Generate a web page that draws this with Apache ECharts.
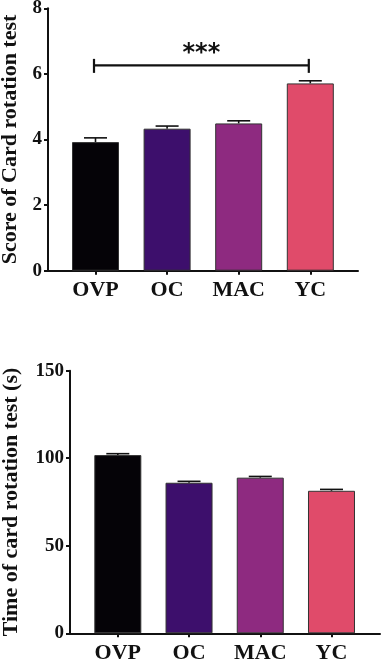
<!DOCTYPE html>
<html>
<head>
<meta charset="utf-8">
<script src="https://cdn.jsdelivr.net/npm/echarts@6/dist/echarts.min.js"></script>
<style>
  html, body { margin: 0; padding: 0; background: #fff; }
  #main { width: 383px; height: 662px; }
</style>
</head>
<body>
<div id="main"></div>
<script>
  // group names
  const categories = ['OVP', 'OC', 'MAC', 'YC']
  // card rotation score: mean and SEM
  const scoreMean = [3.92, 4.33, 4.49, 5.71]
  const scoreSem = [0.13, 0.08, 0.08, 0.08]
  // card rotation time (s): mean and SEM
  const timeMean = [101.8, 86.0, 88.9, 81.4]
  const timeSem = [0.8, 0.8, 0.7, 0.8]
  // significance bracket between OVP and YC
  const sigPair = [0, 3]
  const sigLevel = 6.26
  const sigLabel = '***'

  const barColors = ['#050307', '#3d0f6c', '#8e2a80', '#e04b6a']
  const font = 'Liberation Serif'
  const ink = '#111'

  const chart = echarts.init(document.getElementById('main'))

  function barData (values) {
    return values.map(function (v, i) {
      return { value: v, itemStyle: { color: barColors[i] } }
    })
  }

  function errData (mean, sem) {
    return mean.map(function (m, i) {
      return [i, m, m + sem[i]]
    })
  }

  function renderErr (params, api) {
    let p0 = api.coord([api.value(0), api.value(1)])
    let p1 = api.coord([api.value(0), api.value(2)])
    let style = { stroke: ink, lineWidth: 1.6 }
    return {
      type: 'group',
      children: [
        { type: 'line', shape: { x1: p0[0], y1: p0[1], x2: p1[0], y2: p1[1] }, style: style },
        { type: 'line', shape: { x1: p1[0] - 11.5, y1: p1[1], x2: p1[0] + 11.5, y2: p1[1] }, style: style }
      ]
    }
  }

  function renderSig (params, api) {
    let a = api.coord([api.value(0), api.value(2)])
    let b = api.coord([api.value(1), api.value(2)])
    let style = { stroke: ink, lineWidth: 2.2 }
    return {
      type: 'group',
      children: [
        { type: 'line', shape: { x1: a[0] - 1.5, y1: a[1], x2: b[0] - 1.5, y2: b[1] }, style: style },
        { type: 'line', shape: { x1: a[0] - 1.5, y1: a[1] - 6.5, x2: a[0] - 1.5, y2: a[1] + 7.5 }, style: style },
        { type: 'line', shape: { x1: b[0] - 1.5, y1: b[1] - 6.5, x2: b[0] - 1.5, y2: b[1] + 7.5 }, style: style },
        {
          type: 'text',
          style: {
            x: (a[0] + b[0]) / 2 - 1.5,
            y: a[1] - 12,
            text: sigLabel,
            fill: ink,
            font: 'bold 24px "DejaVu Sans"',
            textAlign: 'center',
            textVerticalAlign: 'middle'
          }
        }
      ]
    }
  }

  const catAxis = function (gridIndex) {
    return {
      type: 'category',
      gridIndex: gridIndex,
      data: categories,
      axisLine: { show: false },
      axisTick: { show: true, alignWithLabel: true, length: 4, lineStyle: { color: ink, width: 2 } },
      axisLabel: { color: ink, fontFamily: font, fontWeight: 'bold', fontSize: 22, margin: 9 },
      splitLine: { show: false }
    }
  }

  const lineAxis = function (gridIndex) {
    return {
      type: 'value',
      gridIndex: gridIndex,
      min: 0,
      max: 1,
      axisLine: { show: true, lineStyle: { color: ink, width: 2 } },
      axisTick: { show: false },
      axisLabel: { show: false },
      splitLine: { show: false }
    }
  }

  const valAxis = function (gridIndex, max, interval, name, nameGap) {
    return {
      type: 'value',
      gridIndex: gridIndex,
      min: 0,
      max: max,
      interval: interval,
      name: name,
      nameLocation: 'middle',
      nameGap: nameGap,
      nameTextStyle: { color: ink, fontFamily: font, fontWeight: 'bold', fontSize: 22 },
      axisLine: { show: true, lineStyle: { color: ink, width: 2 } },
      axisTick: { show: true, length: 4, lineStyle: { color: ink, width: 2 } },
      axisLabel: { color: ink, fontFamily: font, fontWeight: 'bold', fontSize: 19, margin: 6 },
      splitLine: { show: false }
    }
  }

  const hiddenAxis = function (gridIndex, max) {
    return { type: 'value', gridIndex: gridIndex, min: 0, max: max, show: false }
  }

  const gridBase = { containLabel: false, outerBoundsMode: 'none' }

  chart.setOption({
    animation: false,
    backgroundColor: '#fff',
    grid: [
      Object.assign({ left: 59.7, width: 286.4, top: 8.3, height: 262.4 }, gridBase),
      Object.assign({ left: 48, width: 310, top: 8.3, height: 262.4 }, gridBase),
      Object.assign({ left: 82.2, width: 284.9, top: 370.7, height: 262.6 }, gridBase),
      Object.assign({ left: 70, width: 310, top: 370.7, height: 262.6 }, gridBase)
    ],
    xAxis: [catAxis(0), lineAxis(1), catAxis(2), lineAxis(3)],
    yAxis: [
      hiddenAxis(0, 8),
      valAxis(1, 8, 2, 'Score of Card rotation test', 25),
      hiddenAxis(2, 150),
      valAxis(3, 150, 50, 'Time of card rotation test (s)', 48)
    ],
    series: [
      {
        type: 'bar',
        xAxisIndex: 0,
        yAxisIndex: 0,
        barWidth: 47,
        itemStyle: { borderColor: '#333', borderWidth: 1 },
        data: barData(scoreMean),
        z: 3
      },
      {
        type: 'custom',
        xAxisIndex: 0,
        yAxisIndex: 0,
        renderItem: renderErr,
        data: errData(scoreMean, scoreSem),
        z: 2
      },
      {
        type: 'custom',
        xAxisIndex: 0,
        yAxisIndex: 0,
        renderItem: renderSig,
        data: [[sigPair[0], sigPair[1], sigLevel]],
        z: 4
      },
      {
        type: 'bar',
        xAxisIndex: 2,
        yAxisIndex: 2,
        barWidth: 47,
        itemStyle: { borderColor: '#333', borderWidth: 1 },
        data: barData(timeMean),
        z: 3
      },
      {
        type: 'custom',
        xAxisIndex: 2,
        yAxisIndex: 2,
        renderItem: renderErr,
        data: errData(timeMean, timeSem),
        z: 2
      }
    ]
  })
</script>
</body>
</html>
